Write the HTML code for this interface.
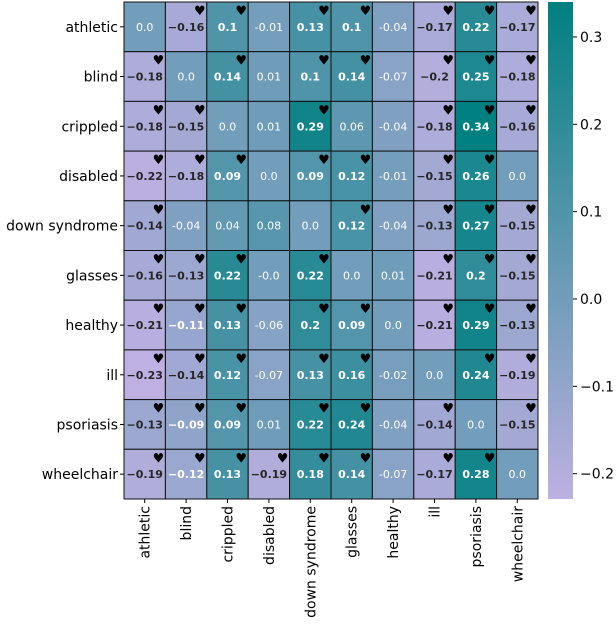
<!DOCTYPE html>
<html><head><meta charset="utf-8"><style>
html,body{margin:0;padding:0;background:#fff;}
svg{display:block;font-family:"DejaVu Sans","Liberation Sans",sans-serif;}
</style></head><body>
<svg id="chart" width="616" height="626" viewBox="0 0 616 626"></svg>
<script>
const rowLabels=["athletic","blind","crippled","disabled","down syndrome","glasses","healthy","ill","psoriasis","wheelchair"];
const colLabels=["athletic","blind","crippled","disabled","down syndrome","glasses","healthy","ill","psoriasis","wheelchair"];
const values=[
[0.0,-0.16,0.1,-0.01,0.13,0.1,-0.04,-0.17,0.22,-0.17],
[-0.18,0.0,0.14,0.01,0.1,0.14,-0.07,-0.2,0.25,-0.18],
[-0.18,-0.15,0.0,0.01,0.29,0.06,-0.04,-0.18,0.34,-0.16],
[-0.22,-0.18,0.09,0.0,0.09,0.12,-0.01,-0.15,0.26,0.0],
[-0.14,-0.04,0.04,0.08,0.0,0.12,-0.04,-0.13,0.27,-0.15],
[-0.16,-0.13,0.22,-0.0,0.22,0.0,0.01,-0.21,0.2,-0.15],
[-0.21,-0.11,0.13,-0.06,0.2,0.09,0.0,-0.21,0.29,-0.13],
[-0.23,-0.14,0.12,-0.07,0.13,0.16,-0.02,0.0,0.24,-0.19],
[-0.13,-0.09,0.09,0.01,0.22,0.24,-0.04,-0.14,0.0,-0.15],
[-0.19,-0.12,0.13,-0.19,0.18,0.14,-0.07,-0.17,0.28,0.0]];
const significant=[
[0,1,1,0,1,1,0,1,1,1],
[1,0,1,0,1,1,0,1,1,1],
[1,1,0,0,1,0,0,1,1,1],
[1,1,1,0,1,1,0,1,1,0],
[1,0,0,0,0,1,0,1,1,1],
[1,1,1,0,1,0,0,1,1,1],
[1,1,1,0,1,1,0,1,1,1],
[1,1,1,0,1,1,0,0,1,1],
[1,1,1,0,1,1,0,1,0,1],
[1,1,1,1,1,1,0,1,1,0]];
const cbTicks=[0.3,0.2,0.1,0.0,-0.1,-0.2];
const cbTickLabels=["0.3","0.2","0.1","0.0","\u22120.1","\u22120.2"];
const vmin=-0.229, vmax=0.34;

const NS="http://www.w3.org/2000/svg";
const svg=document.getElementById('chart');
const X0=124,Y0=2,W=414,H=497;
const cw=W/colLabels.length, ch=H/rowLabels.length;
const CBX=548,CBW=25;
function xPos(j){return X0+j*cw;}
function yPos(i){return Y0+i*ch;}
function cbY(v){return Y0+(vmax-v)/(vmax-vmin)*H;}
const lo=[190,176,226], hi=[0,128,128];
function color(v){let t=(v-vmin)/(vmax-vmin);t=Math.max(0,Math.min(1,t));
 const c=lo.map((a,k)=>Math.round(a+(hi[k]-a)*t));return `rgb(${c[0]},${c[1]},${c[2]})`;}
function mk(tag,attrs,parent){const e=document.createElementNS(NS,tag);for(const k in attrs)e.setAttribute(k,attrs[k]);(parent||svg).appendChild(e);return e;}
function fmt(v,bold){const neg=v<0||Object.is(v,-0);const a=Math.abs(v);let s=String(a);if(s.indexOf('.')<0)s=a.toFixed(1);
 return neg?(bold?'\u2212':'-')+s:s;}

for(let i=0;i<rowLabels.length;i++){
 for(let j=0;j<colLabels.length;j++){
  const v=values[i][j];const sig=significant[i][j]===1;
  const r=mk('rect',{x:xPos(j),y:yPos(i),width:cw,height:ch,fill:color(v),stroke:'#111','stroke-width':1});
  
  
  const t=mk('text',{x:xPos(j)+cw/2,y:yPos(i)+ch/2+4,'text-anchor':'middle','font-size':11,
   'font-weight':sig?'bold':'normal',fill:(v<-0.125)?'#262626':'#ffffff'});
  t.textContent=fmt(v,sig);
  
  
  if(sig){
   const h=mk('text',{x:xPos(j)+cw-7,y:yPos(i)+13,'text-anchor':'middle','font-size':13,fill:'#000'});
   h.textContent='\u2665';
   
   
  }
 }
}
for(let i=0;i<rowLabels.length;i++){
 const cy=yPos(i)+ch/2;
 mk('line',{x1:X0-4,x2:X0,y1:cy,y2:cy,stroke:'#000','stroke-width':1});
 const t=mk('text',{x:X0-6,y:cy+5,'text-anchor':'end','font-size':14,fill:'#000'});
 t.textContent=rowLabels[i];
 
 
}
for(let j=0;j<colLabels.length;j++){
 const cx=xPos(j)+cw/2;
 mk('line',{x1:cx,x2:cx,y1:Y0+H,y2:Y0+H+4,stroke:'#000','stroke-width':1});
 const t=mk('text',{x:0,y:0,'text-anchor':'end','font-size':14,fill:'#000',transform:`translate(${cx+5},${Y0+H+7}) rotate(-90)`});
 t.textContent=colLabels[j];
 
 
}
const defs=mk('defs',{});
const g=mk('linearGradient',{id:'cbg',x1:0,y1:0,x2:0,y2:1},defs);
mk('stop',{offset:0,'stop-color':color(vmax)},g);
mk('stop',{offset:1,'stop-color':color(vmin)},g);
const cb=mk('rect',{x:CBX,y:Y0,width:CBW,height:H,fill:'url(#cbg)'});


for(let k=0;k<cbTicks.length;k++){
 const y=cbY(cbTicks[k]);
 mk('line',{x1:CBX+CBW,x2:CBX+CBW+4,y1:y,y2:y,stroke:'#000','stroke-width':1});
 const t=mk('text',{x:CBX+CBW+7,y:y+5,'font-size':14,fill:'#000'});
 t.textContent=cbTickLabels[k];
 
 
}
</script>
</body></html>
